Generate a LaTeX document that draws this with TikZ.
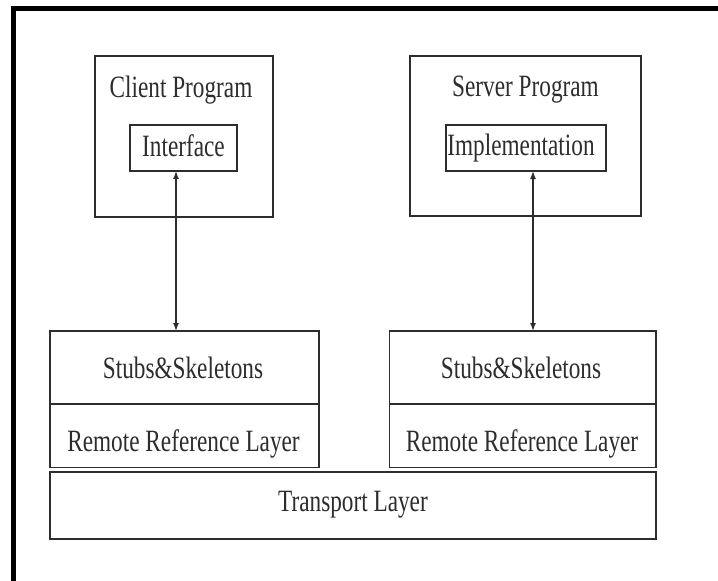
\documentclass[tikz,border=0pt]{standalone}
\usepackage{fontspec}
\setmainfont{Liberation Serif}[FakeStretch=0.75]
\usetikzlibrary{arrows.meta}
\definecolor{ink}{RGB}{45,45,45}
\tikzset{
  box/.style={draw=ink, line width=1.6pt, inner sep=0pt, outer sep=0pt},
  txt/.style={inner sep=0pt, anchor=base, text=ink, font=\fontsize{31}{33}\selectfont},
  arr/.style={draw=ink, line width=1.4pt, {Latex[length=8pt,width=6pt]}-{Latex[length=8pt,width=6pt]}}
}
\begin{document}
\begin{tikzpicture}[x=1pt,y=-1pt]
\fill[white] (0,0) rectangle (718,581);
\useasboundingbox (0,0) rectangle (718,581);
% frame
\draw[line width=5pt, black] (13.5,581) -- (13.5,8.5) -- (718,8.5);
% boxes
\node[box, minimum width=178pt, minimum height=161pt] (client) at (184,136.5) {};
\node[box, minimum width=107pt, minimum height=46pt] (iface) at (183.5,148) {};
\node[box, minimum width=231pt, minimum height=160pt] (server) at (525.5,136) {};
\node[box, minimum width=160pt, minimum height=46pt] (impl) at (526,148) {};
\node[box, minimum width=269pt, minimum height=73pt] (stubL) at (184.5,367.5) {};
\node[box, minimum width=269pt, minimum height=63.5pt] (rrlL) at (184.5,435.75) {};
\node[box, minimum width=266.5pt, minimum height=73pt] (stubR) at (522.75,367.5) {};
\node[box, minimum width=266.5pt, minimum height=63.5pt] (rrlR) at (522.75,435.75) {};
\node[box, minimum width=606pt, minimum height=67pt] (trans) at (353,505.5) {};
% texts
\node[txt] (tclient) at (181,97) {Client Program};
\node[txt] (tiface) at (183.5,156) {Interface};
\node[txt] (tserver) at (525.5,96) {Server Program};
\node[txt] (timpl) at (521,155) {Implementation};
\node[txt] (tstubL) at (183,378) {Stubs\&Skeletons};
\node[txt] (trrlL) at (183.5,451) {Remote Reference Layer};
\node[txt] (tstubR) at (521,378) {Stubs\&Skeletons};
\node[txt] (trrlR) at (522,451) {Remote Reference Layer};
\node[txt] (ttrans) at (353,511) {Transport Layer};
% arrows
\draw[arr] ([xshift=-7.5pt]iface.south) -- ([xshift=-7.5pt]iface.south |- stubL.north);
\draw[arr] ([xshift=7pt]impl.south) -- ([xshift=7pt]impl.south |- stubR.north);
\end{tikzpicture}
\end{document}
